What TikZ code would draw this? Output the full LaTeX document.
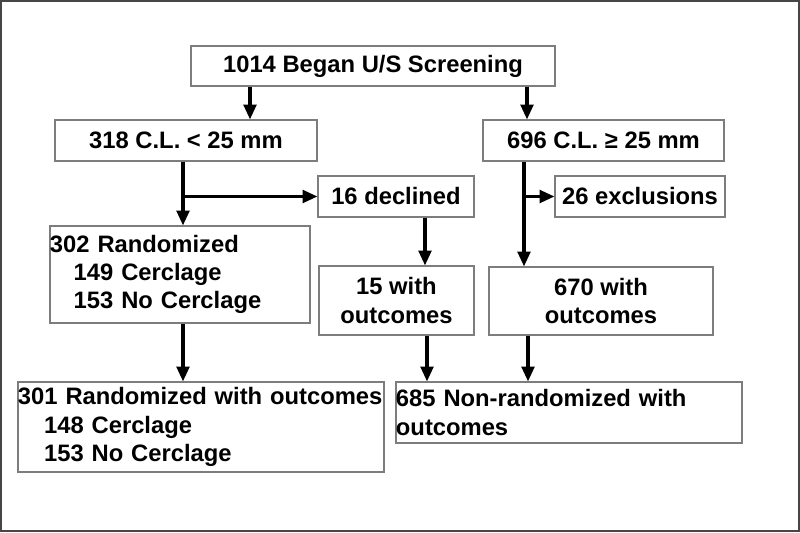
\documentclass[tikz,border=0pt]{standalone}
\usepackage{fontspec}
\setmainfont{Liberation Sans}
\usepackage{xcolor}
\usepackage{tikz}
\usetikzlibrary{arrows.meta}
\definecolor{boxline}{RGB}{125,125,125}
\definecolor{frameline}{RGB}{70,70,70}

\begin{document}
\begin{tikzpicture}[x=0.025cm,y=-0.025cm,
	box/.style={draw=boxline,line width=0.8pt,inner sep=0pt,align=center,font=\fontsize{16.9}{20}\selectfont\bfseries},
	leftbox/.style={box,align=left},
	arr/.style={line width=2.2pt,-{Triangle[length=10.5pt,width=9pt]}}]
				\useasboundingbox (0,0) rectangle (800,532);
				\draw[frameline,line width=1.5pt] (1,1) rectangle (799,531);
				
				\coordinate (p1) at (373,66);%screening
				\coordinate (p2) at (186,140.5);%short
				\coordinate (p3) at (603.5,140.5);%long
				\coordinate (p4) at (396,196.5);%declined
				\coordinate (p5) at (640,196.5);%exclusions
				\coordinate (p6) at (180,274.5);%randomized
				\coordinate (p7) at (396.5,300.5);%15 outcomes
				\coordinate (p8) at (601,301);%670 outcomes
				\coordinate (p9) at (201,427);%301 randomized
				\coordinate (p10) at (569,412.5);%685 nonrandomized
				
				\coordinate (x1) at (250,0);
				\coordinate (x2) at (527,0);
				\coordinate (x3) at (183,0);
				\coordinate (x4) at (524,0);
				\coordinate (x5) at (425,0);
				\coordinate (x6) at (427,0);
				\coordinate (x7) at (528,0);
				
				\node[box,minimum width=9.1cm,minimum height=1cm] (screen) at (p1) {1014 Began U/S Screening};
				\node[box,minimum width=6.55cm,minimum height=1.025cm] (short) at (p2) {318 C.L. < 25 mm};
				\node[box,minimum width=6.025cm,minimum height=1.025cm] (long) at (p3) {696 C.L. ≥ 25 mm};
				\node[box,minimum width=3.9cm,minimum height=1.025cm] (declined) at (p4) {16 declined};
				\node[box,minimum width=4.25cm,minimum height=1.025cm] (excl) at (p5) {26 exclusions};
				\node[leftbox,text width=6.5cm,minimum height=2.425cm] (rand) at (p6) {302 Randomized\\\hspace*{1em}149 Cerclage\\\hspace*{1em}153 No Cerclage};
				\node[box,minimum width=3.875cm,minimum height=1.725cm] (outa) at (p7) {15 with\\outcomes};
				\node[box,minimum width=5.6cm,minimum height=1.7cm] (outb) at (p8) {670 with\\outcomes};
				\node[leftbox,text width=9.15cm,minimum height=2.25cm] (randout) at (p9) {301 Randomized with outcomes\\\hspace*{1.1em}148 Cerclage\\\hspace*{1.1em}153 No Cerclage};
				\node[leftbox,text width=8.65cm,minimum height=1.525cm] (nonrand) at (p10) {685 Non-randomized with\\outcomes};
				
				\draw[arr] (screen.south -| x1) to[] (short.north -| x1);
				\draw[arr] (screen.south -| x2) to[] (long.north -| x2);
				\draw[arr] (short.south -| x3) to[] (rand.north -| x3);
				\draw[arr] (x3 |- declined.west) to[] (declined.west);
				\draw[arr] (long.south -| x4) to[] (outb.north -| x4);
				\draw[arr] (x4 |- excl.west) to[] (excl.west);
				\draw[arr] (declined.south -| x5) to[] (outa.north -| x5);
				\draw[arr] (rand.south -| x3) to[] (randout.north -| x3);
				\draw[arr] (outa.south -| x6) to[] (nonrand.north -| x6);
				\draw[arr] (outb.south -| x7) to[] (nonrand.north -| x7);
			\end{tikzpicture}
\end{document}
